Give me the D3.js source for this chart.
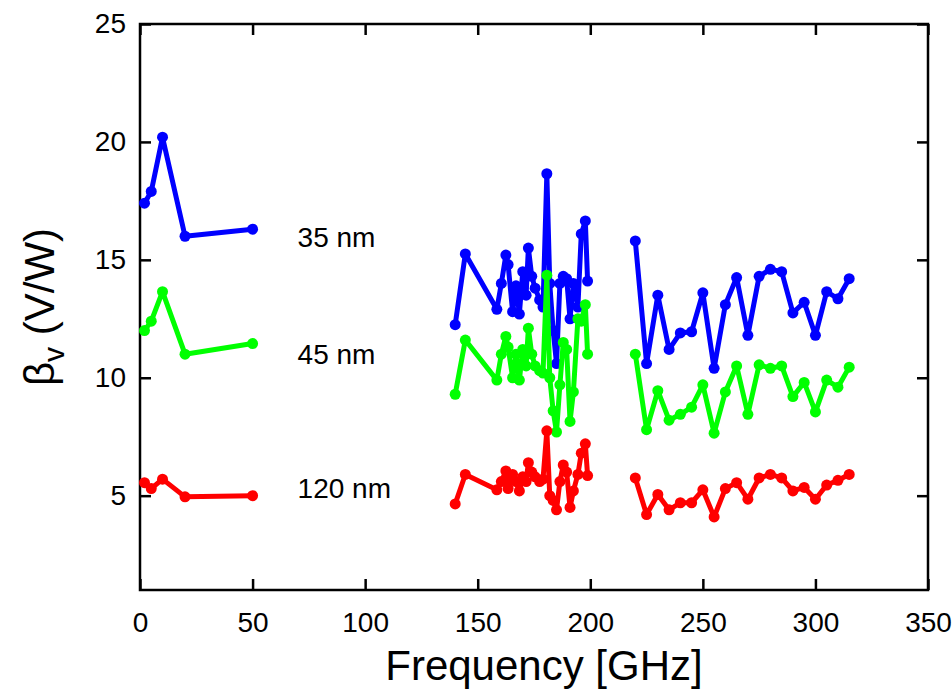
<!DOCTYPE html>
<html>
<head>
<meta charset="utf-8">
<script src="https://cdn.jsdelivr.net/npm/d3@7"></script>
<style>
body { margin: 0; background: #fff; }
svg text { font-family: "Liberation Sans", Arial, Helvetica, sans-serif; fill: #000; }
</style>
</head>
<body>
<div class="chart"></div>
<script>
// frequencies (GHz), three measurement bands
var freqLow = [2, 5, 10, 20, 50];
var freqMid = [140, 144.5, 158.5, 160.5, 162.5, 163.5, 165.5, 167, 168.5, 170, 171.5, 172.5, 174, 175.5, 177.5, 179, 180.7,
    182, 183.5, 185, 186.5, 188, 189.5, 191, 192.5, 194.5, 196, 197.8, 198.8];
var freqHigh = [220, 225, 230, 235, 240, 245, 250, 255, 260, 265, 270, 275, 280, 285, 290, 295, 300, 305, 310, 315];

// responsivity (V/W)
var nm35Low = [17.4, 17.9, 20.2, 16.0, 16.3];
var nm35Mid = [12.25, 15.25, 12.9, 14.0, 15.2, 14.8, 12.8, 13.9, 12.7, 14.5, 13.5, 15.5, 14.3, 13.8, 13.3, 13.0, 18.65,
    14.0, 12.0, 10.6, 14.0, 14.3, 14.2, 12.5, 14.0, 13.0, 16.1, 16.65, 14.1];
var nm35High = [15.8, 10.6, 13.5, 11.2, 11.9, 11.95, 13.6, 10.4, 13.1, 14.25, 11.8, 14.3, 14.6, 14.5, 12.75, 13.2, 11.8, 13.65, 13.35, 14.2];

var nm45Low = [12.0, 12.4, 13.65, 11.0, 11.45];
var nm45Mid = [9.3, 11.6, 9.9, 11.0, 11.75, 11.3, 10.0, 11.0, 9.9, 11.2, 10.5, 12.1, 11.0, 10.5, 10.3, 10.2, 14.35,
    10.0, 8.6, 7.7, 9.7, 11.5, 11.2, 8.15, 9.4, 12.5, 12.4, 13.1, 11.0];
var nm45High = [11.0, 7.8, 9.45, 8.2, 8.45, 8.75, 9.7, 7.65, 9.4, 10.5, 8.45, 10.55, 10.4, 10.5, 9.2, 9.8, 8.55, 9.9, 9.6, 10.45];

var nm120Low = [5.55, 5.3, 5.7, 4.95, 5.0];
var nm120Mid = [4.65, 5.9, 5.25, 5.6, 6.05, 5.3, 5.9, 5.6, 5.2, 5.8, 5.6, 6.4, 6.0, 5.8, 5.6, 5.7, 7.75,
    5.0, 4.8, 4.4, 5.6, 6.3, 6.0, 4.5, 5.2, 5.9, 6.8, 7.2, 5.85];
var nm120High = [5.75, 4.2, 5.05, 4.4, 4.7, 4.7, 5.25, 4.1, 5.3, 5.55, 4.85, 5.75, 5.9, 5.75, 5.2, 5.35, 4.85, 5.45, 5.65, 5.9];

var seriesNames = ["35 nm", "45 nm", "120 nm"];
var seriesColors = ["#0000ff", "#00ff00", "#ff0000"];
var seriesLow = [nm35Low, nm45Low, nm120Low];
var seriesMid = [nm35Mid, nm45Mid, nm120Mid];
var seriesHigh = [nm35High, nm45High, nm120High];
var labelAt = [[70, 15.55], [70, 10.6], [70, 4.9]]; // [GHz, V/W] where the label sits

var xTicks = [0, 50, 100, 150, 200, 250, 300, 350];
var yTicks = [5, 10, 15, 20, 25];

var margin = { top: 24, right: 24, bottom: 101, left: 140 },
    width = 952 - margin.left - margin.right,
    height = 691 - margin.top - margin.bottom;

var svg = d3.select(".chart")
    .append("svg")
    .attr("width", 952)
    .attr("height", 691)
    .append("g")
    .attr("transform", "translate(" + margin.left + "," + margin.top + ")");

var x = d3.scaleLinear()
    .domain([0, 350])
    .range([0, width]);

var y = d3.scaleLinear()
    .domain([1, 25])
    .range([height, 0]);

// frame
svg.append("rect")
    .attr("width", width)
    .attr("height", height)
    .style("fill", "none")
    .style("stroke", "#000")
    .style("stroke-width", 2.5);

// axes (ticks pointing inward, mirrored on top / right)
var xAxis = d3.axisBottom(x).tickValues(xTicks).tickSize(-11).tickPadding(22).tickFormat(d3.format("d"));
var xTop = d3.axisTop(x).tickValues(xTicks).tickSize(-11).tickFormat("");
var yAxis = d3.axisLeft(y).tickValues(yTicks).tickSize(-11).tickPadding(14).tickFormat(d3.format("d"));
var yRight = d3.axisRight(y).tickValues(yTicks).tickSize(-11).tickFormat("");

function styleAxis(g) {
    g.select(".domain").remove();
    g.selectAll(".tick line").style("stroke", "#000").style("stroke-width", 2.5);
    g.selectAll(".tick text").style("font-size", "28px");
}

svg.append("g").attr("transform", "translate(0," + height + ")").call(xAxis).call(styleAxis);
svg.append("g").call(xTop).call(styleAxis);
svg.append("g").call(yAxis).call(styleAxis);
svg.append("g").attr("transform", "translate(" + width + ",0)").call(yRight).call(styleAxis);

var line = d3.line()
    .x(function(d) { return x(d[0]); })
    .y(function(d) { return y(d[1]); });

var layerData = svg.append("g");

seriesNames.forEach(function(name, i) {
    var segments = [
        d3.zip(freqLow, seriesLow[i]),
        d3.zip(freqMid, seriesMid[i]),
        d3.zip(freqHigh, seriesHigh[i])
    ];
    var g = layerData.append("g");
    segments.forEach(function(seg) {
        g.append("path")
            .datum(seg)
            .attr("d", line)
            .style("fill", "none")
            .style("stroke", seriesColors[i])
            .style("stroke-width", 5)
            .style("stroke-linejoin", "round");
        g.selectAll(null)
            .data(seg)
            .enter()
            .append("circle")
            .attr("cx", function(d) { return x(d[0]); })
            .attr("cy", function(d) { return y(d[1]); })
            .attr("r", 5.5)
            .style("fill", seriesColors[i]);
    });
    svg.append("text")
        .attr("x", x(labelAt[i][0]))
        .attr("y", y(labelAt[i][1]))
        .style("font-size", "28px")
        .text(name);
});

// axis titles
svg.append("text")
    .attr("x", width / 2 + 10)
    .attr("y", height + 90)
    .attr("text-anchor", "middle")
    .style("font-size", "42px")
    .text("Frequency [GHz]");

var yTitle = svg.append("text")
    .attr("transform", "translate(-86," + (height / 2) + ") rotate(-90)")
    .attr("text-anchor", "middle")
    .style("font-size", "42px");
yTitle.append("tspan").text("β");
yTitle.append("tspan").attr("dy", 10).style("font-size", "30px").text("v");
yTitle.append("tspan").attr("dy", -10).text(" (V/W)");
</script>
</body>
</html>
